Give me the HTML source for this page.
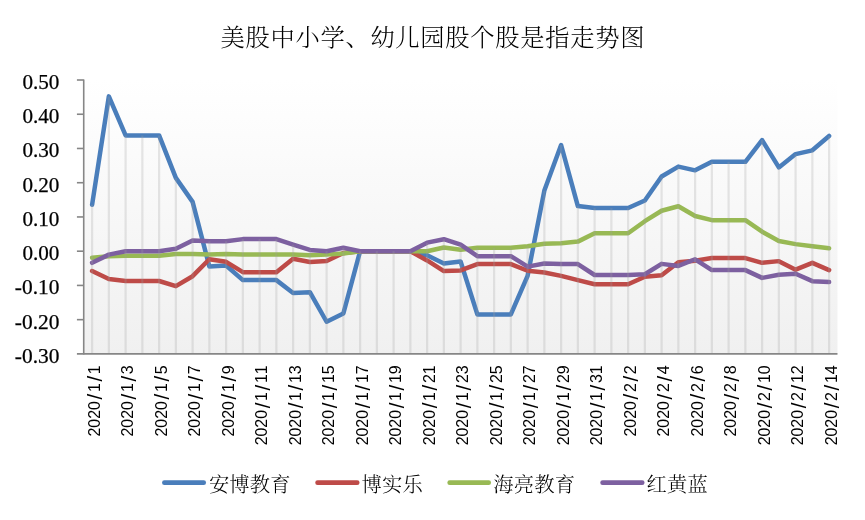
<!DOCTYPE html>
<html lang="zh-CN">
<head>
<meta charset="utf-8">
<title>美股中小学、幼儿园股个股是指走势图</title>
<style>
html,body{margin:0;padding:0;background:#fff;}
body{width:865px;height:520px;overflow:hidden;}
svg{display:block;}
.t{font-family:"Liberation Serif","Noto Serif CJK SC",serif;fill:#000;}
.yl{font-family:"Liberation Serif",serif;font-size:20.6px;fill:#000;stroke:#000;stroke-width:0.25;}
.xl{font-family:"Liberation Sans",sans-serif;font-size:16px;fill:#000;}
.s{fill:none;stroke-width:4.5;stroke-linecap:round;stroke-linejoin:round;}
</style>
</head>
<body>
<svg width="865" height="520" viewBox="0 0 865 520">
<defs>
<linearGradient id="pg" x1="0" y1="0" x2="0" y2="1">
<stop offset="0" stop-color="#ffffff"/>
<stop offset="1" stop-color="#f0f0f0"/>
</linearGradient>
</defs>
<rect x="0" y="0" width="865" height="520" fill="#ffffff"/>
<rect x="83.72" y="80.00" width="753.75" height="273.90" fill="url(#pg)"/>
<text class="t" x="432.5" y="45.5" font-size="24.3" font-weight="300" text-anchor="middle" textLength="424" lengthAdjust="spacing">美股中小学、幼儿园股个股是指走势图</text>
<g class="s">
<path d="M92.10,204.72 L108.85,96.39 L125.60,135.43 L142.35,135.43 L159.10,135.43 L175.85,177.90 L192.60,201.88 L209.35,266.51 L226.10,265.48 L242.85,280.11 L259.60,280.11 L276.35,280.11 L293.10,292.99 L309.85,292.16 L326.60,321.75 L343.35,313.53 L360.10,251.20 L376.85,251.20 L393.60,251.20 L410.35,251.20 L427.10,255.31 L443.85,263.53 L460.60,261.47 L477.35,314.43 L494.10,314.43 L510.85,314.43 L527.60,275.86 L544.35,190.58 L561.10,145.02 L577.85,206.09 L594.60,208.04 L611.35,208.04 L628.10,208.04 L644.85,200.51 L661.60,176.53 L678.35,166.60 L695.10,170.37 L711.85,161.81 L728.60,161.81 L745.35,161.81 L762.10,140.06 L778.85,167.39 L795.60,154.10 L812.35,150.33 L829.10,135.95" stroke="#4a7ebb"/>
<path d="M92.10,271.06 L108.85,278.94 L125.60,281.00 L142.35,281.00 L159.10,281.00 L175.85,286.13 L192.60,276.20 L209.35,259.25 L226.10,261.82 L242.85,272.20 L259.60,272.20 L276.35,272.20 L293.10,258.67 L309.85,261.99 L326.60,260.96 L343.35,253.05 L360.10,251.20 L376.85,251.20 L393.60,251.20 L410.35,251.20 L427.10,260.45 L443.85,271.06 L460.60,270.38 L477.35,264.08 L494.10,264.08 L510.85,264.08 L527.60,270.72 L544.35,272.44 L561.10,275.86 L577.85,280.11 L594.60,284.29 L611.35,284.29 L628.10,284.29 L644.85,276.75 L661.60,275.31 L678.35,262.16 L695.10,260.72 L711.85,258.05 L728.60,258.05 L745.35,258.05 L762.10,262.84 L778.85,261.13 L795.60,269.69 L812.35,262.84 L829.10,270.11" stroke="#be4b48"/>
<path d="M92.10,257.71 L108.85,256.34 L125.60,255.65 L142.35,255.65 L159.10,255.65 L175.85,253.94 L192.60,253.94 L209.35,254.62 L226.10,253.94 L242.85,254.52 L259.60,254.52 L276.35,254.52 L293.10,254.52 L309.85,255.14 L326.60,254.62 L343.35,253.46 L360.10,251.20 L376.85,251.20 L393.60,251.20 L410.35,251.20 L427.10,251.20 L443.85,247.43 L460.60,249.83 L477.35,247.84 L494.10,247.84 L510.85,247.84 L527.60,246.20 L544.35,243.66 L561.10,243.32 L577.85,241.61 L594.60,233.29 L611.35,233.29 L628.10,233.29 L644.85,221.20 L661.60,210.78 L678.35,206.23 L695.10,215.99 L711.85,220.17 L728.60,220.17 L745.35,220.17 L762.10,231.68 L778.85,240.92 L795.60,244.11 L812.35,246.20 L829.10,248.29" stroke="#98b954"/>
<path d="M92.10,262.84 L108.85,254.62 L125.60,251.20 L142.35,251.20 L159.10,251.20 L175.85,248.80 L192.60,240.58 L209.35,241.27 L226.10,241.27 L242.85,239.11 L259.60,239.11 L276.35,239.11 L293.10,244.69 L309.85,249.93 L326.60,251.20 L343.35,247.77 L360.10,251.20 L376.85,251.20 L393.60,251.20 L410.35,251.20 L427.10,242.64 L443.85,239.21 L460.60,244.69 L477.35,256.17 L494.10,256.17 L510.85,256.17 L527.60,266.61 L544.35,263.53 L561.10,264.08 L577.85,264.08 L594.60,275.00 L611.35,275.00 L628.10,275.00 L644.85,274.28 L661.60,263.87 L678.35,265.93 L695.10,259.28 L711.85,270.11 L728.60,270.11 L745.35,270.11 L762.10,277.91 L778.85,274.83 L795.60,273.81 L812.35,281.13 L829.10,282.02" stroke="#7d60a0"/>
</g>
<g stroke="#a0a0a0" stroke-opacity="0.25" stroke-width="2.2" fill="none">
<line x1="92.10" y1="204.72" x2="92.10" y2="353.90"/>
<line x1="108.85" y1="96.39" x2="108.85" y2="353.90"/>
<line x1="125.60" y1="135.43" x2="125.60" y2="353.90"/>
<line x1="142.35" y1="135.43" x2="142.35" y2="353.90"/>
<line x1="159.10" y1="135.43" x2="159.10" y2="353.90"/>
<line x1="175.85" y1="177.90" x2="175.85" y2="353.90"/>
<line x1="192.60" y1="201.88" x2="192.60" y2="353.90"/>
<line x1="209.35" y1="241.27" x2="209.35" y2="353.90"/>
<line x1="226.10" y1="241.27" x2="226.10" y2="353.90"/>
<line x1="242.85" y1="239.11" x2="242.85" y2="353.90"/>
<line x1="259.60" y1="239.11" x2="259.60" y2="353.90"/>
<line x1="276.35" y1="239.11" x2="276.35" y2="353.90"/>
<line x1="293.10" y1="244.69" x2="293.10" y2="353.90"/>
<line x1="309.85" y1="249.93" x2="309.85" y2="353.90"/>
<line x1="326.60" y1="251.20" x2="326.60" y2="353.90"/>
<line x1="343.35" y1="247.77" x2="343.35" y2="353.90"/>
<line x1="360.10" y1="251.20" x2="360.10" y2="353.90"/>
<line x1="376.85" y1="251.20" x2="376.85" y2="353.90"/>
<line x1="393.60" y1="251.20" x2="393.60" y2="353.90"/>
<line x1="410.35" y1="251.20" x2="410.35" y2="353.90"/>
<line x1="427.10" y1="242.64" x2="427.10" y2="353.90"/>
<line x1="443.85" y1="239.21" x2="443.85" y2="353.90"/>
<line x1="460.60" y1="244.69" x2="460.60" y2="353.90"/>
<line x1="477.35" y1="247.84" x2="477.35" y2="353.90"/>
<line x1="494.10" y1="247.84" x2="494.10" y2="353.90"/>
<line x1="510.85" y1="247.84" x2="510.85" y2="353.90"/>
<line x1="527.60" y1="246.20" x2="527.60" y2="353.90"/>
<line x1="544.35" y1="190.58" x2="544.35" y2="353.90"/>
<line x1="561.10" y1="145.02" x2="561.10" y2="353.90"/>
<line x1="577.85" y1="206.09" x2="577.85" y2="353.90"/>
<line x1="594.60" y1="208.04" x2="594.60" y2="353.90"/>
<line x1="611.35" y1="208.04" x2="611.35" y2="353.90"/>
<line x1="628.10" y1="208.04" x2="628.10" y2="353.90"/>
<line x1="644.85" y1="200.51" x2="644.85" y2="353.90"/>
<line x1="661.60" y1="176.53" x2="661.60" y2="353.90"/>
<line x1="678.35" y1="166.60" x2="678.35" y2="353.90"/>
<line x1="695.10" y1="170.37" x2="695.10" y2="353.90"/>
<line x1="711.85" y1="161.81" x2="711.85" y2="353.90"/>
<line x1="728.60" y1="161.81" x2="728.60" y2="353.90"/>
<line x1="745.35" y1="161.81" x2="745.35" y2="353.90"/>
<line x1="762.10" y1="140.06" x2="762.10" y2="353.90"/>
<line x1="778.85" y1="167.39" x2="778.85" y2="353.90"/>
<line x1="795.60" y1="154.10" x2="795.60" y2="353.90"/>
<line x1="812.35" y1="150.33" x2="812.35" y2="353.90"/>
<line x1="829.10" y1="135.95" x2="829.10" y2="353.90"/>
</g>
<g stroke="#868686" stroke-width="1.6" fill="none">
<line x1="83.72" y1="79.50" x2="83.72" y2="354.60"/>
<line x1="76.92" y1="353.90" x2="837.48" y2="353.90"/>
<line x1="76.92" y1="80.00" x2="83.72" y2="80.00"/>
<line x1="76.92" y1="114.24" x2="83.72" y2="114.24"/>
<line x1="76.92" y1="148.47" x2="83.72" y2="148.47"/>
<line x1="76.92" y1="182.71" x2="83.72" y2="182.71"/>
<line x1="76.92" y1="216.95" x2="83.72" y2="216.95"/>
<line x1="76.92" y1="251.19" x2="83.72" y2="251.19"/>
<line x1="76.92" y1="285.42" x2="83.72" y2="285.42"/>
<line x1="76.92" y1="319.66" x2="83.72" y2="319.66"/>
</g>
<g class="yl">
<text x="22.40" y="89.00" textLength="37.0" lengthAdjust="spacingAndGlyphs">0.50</text>
<text x="22.40" y="123.24" textLength="37.0" lengthAdjust="spacingAndGlyphs">0.40</text>
<text x="22.40" y="157.47" textLength="37.0" lengthAdjust="spacingAndGlyphs">0.30</text>
<text x="22.40" y="191.71" textLength="37.0" lengthAdjust="spacingAndGlyphs">0.20</text>
<text x="22.40" y="225.95" textLength="37.0" lengthAdjust="spacingAndGlyphs">0.10</text>
<text x="22.40" y="260.19" textLength="37.0" lengthAdjust="spacingAndGlyphs">0.00</text>
<text x="14.80" y="294.42" textLength="44.6" lengthAdjust="spacingAndGlyphs">-0.10</text>
<text x="14.80" y="328.66" textLength="44.6" lengthAdjust="spacingAndGlyphs">-0.20</text>
<text x="14.80" y="362.90" textLength="44.6" lengthAdjust="spacingAndGlyphs">-0.30</text>
</g>
<g class="xl">
<text transform="translate(99.60,365.4) rotate(-90)" x="-71.10 -62.25 -53.40 -44.55 -34.05 -26.70 -16.20 -8.85" y="0 0 0 0 2.5 0 2.5 0">2020<tspan font-size="20.5">/</tspan>1<tspan font-size="20.5">/</tspan>1</text>
<text transform="translate(133.10,365.4) rotate(-90)" x="-71.10 -62.25 -53.40 -44.55 -34.05 -26.70 -16.20 -8.85" y="0 0 0 0 2.5 0 2.5 0">2020<tspan font-size="20.5">/</tspan>1<tspan font-size="20.5">/</tspan>3</text>
<text transform="translate(166.60,365.4) rotate(-90)" x="-71.10 -62.25 -53.40 -44.55 -34.05 -26.70 -16.20 -8.85" y="0 0 0 0 2.5 0 2.5 0">2020<tspan font-size="20.5">/</tspan>1<tspan font-size="20.5">/</tspan>5</text>
<text transform="translate(200.10,365.4) rotate(-90)" x="-71.10 -62.25 -53.40 -44.55 -34.05 -26.70 -16.20 -8.85" y="0 0 0 0 2.5 0 2.5 0">2020<tspan font-size="20.5">/</tspan>1<tspan font-size="20.5">/</tspan>7</text>
<text transform="translate(233.60,365.4) rotate(-90)" x="-71.10 -62.25 -53.40 -44.55 -34.05 -26.70 -16.20 -8.85" y="0 0 0 0 2.5 0 2.5 0">2020<tspan font-size="20.5">/</tspan>1<tspan font-size="20.5">/</tspan>9</text>
<text transform="translate(267.10,365.4) rotate(-90)" x="-79.95 -71.10 -62.25 -53.40 -42.90 -35.55 -25.05 -17.70 -8.85" y="0 0 0 0 2.5 0 2.5 0 0">2020<tspan font-size="20.5">/</tspan>1<tspan font-size="20.5">/</tspan>11</text>
<text transform="translate(300.60,365.4) rotate(-90)" x="-79.95 -71.10 -62.25 -53.40 -42.90 -35.55 -25.05 -17.70 -8.85" y="0 0 0 0 2.5 0 2.5 0 0">2020<tspan font-size="20.5">/</tspan>1<tspan font-size="20.5">/</tspan>13</text>
<text transform="translate(334.10,365.4) rotate(-90)" x="-79.95 -71.10 -62.25 -53.40 -42.90 -35.55 -25.05 -17.70 -8.85" y="0 0 0 0 2.5 0 2.5 0 0">2020<tspan font-size="20.5">/</tspan>1<tspan font-size="20.5">/</tspan>15</text>
<text transform="translate(367.60,365.4) rotate(-90)" x="-79.95 -71.10 -62.25 -53.40 -42.90 -35.55 -25.05 -17.70 -8.85" y="0 0 0 0 2.5 0 2.5 0 0">2020<tspan font-size="20.5">/</tspan>1<tspan font-size="20.5">/</tspan>17</text>
<text transform="translate(401.10,365.4) rotate(-90)" x="-79.95 -71.10 -62.25 -53.40 -42.90 -35.55 -25.05 -17.70 -8.85" y="0 0 0 0 2.5 0 2.5 0 0">2020<tspan font-size="20.5">/</tspan>1<tspan font-size="20.5">/</tspan>19</text>
<text transform="translate(434.60,365.4) rotate(-90)" x="-79.95 -71.10 -62.25 -53.40 -42.90 -35.55 -25.05 -17.70 -8.85" y="0 0 0 0 2.5 0 2.5 0 0">2020<tspan font-size="20.5">/</tspan>1<tspan font-size="20.5">/</tspan>21</text>
<text transform="translate(468.10,365.4) rotate(-90)" x="-79.95 -71.10 -62.25 -53.40 -42.90 -35.55 -25.05 -17.70 -8.85" y="0 0 0 0 2.5 0 2.5 0 0">2020<tspan font-size="20.5">/</tspan>1<tspan font-size="20.5">/</tspan>23</text>
<text transform="translate(501.60,365.4) rotate(-90)" x="-79.95 -71.10 -62.25 -53.40 -42.90 -35.55 -25.05 -17.70 -8.85" y="0 0 0 0 2.5 0 2.5 0 0">2020<tspan font-size="20.5">/</tspan>1<tspan font-size="20.5">/</tspan>25</text>
<text transform="translate(535.10,365.4) rotate(-90)" x="-79.95 -71.10 -62.25 -53.40 -42.90 -35.55 -25.05 -17.70 -8.85" y="0 0 0 0 2.5 0 2.5 0 0">2020<tspan font-size="20.5">/</tspan>1<tspan font-size="20.5">/</tspan>27</text>
<text transform="translate(568.60,365.4) rotate(-90)" x="-79.95 -71.10 -62.25 -53.40 -42.90 -35.55 -25.05 -17.70 -8.85" y="0 0 0 0 2.5 0 2.5 0 0">2020<tspan font-size="20.5">/</tspan>1<tspan font-size="20.5">/</tspan>29</text>
<text transform="translate(602.10,365.4) rotate(-90)" x="-79.95 -71.10 -62.25 -53.40 -42.90 -35.55 -25.05 -17.70 -8.85" y="0 0 0 0 2.5 0 2.5 0 0">2020<tspan font-size="20.5">/</tspan>1<tspan font-size="20.5">/</tspan>31</text>
<text transform="translate(635.60,365.4) rotate(-90)" x="-71.10 -62.25 -53.40 -44.55 -34.05 -26.70 -16.20 -8.85" y="0 0 0 0 2.5 0 2.5 0">2020<tspan font-size="20.5">/</tspan>2<tspan font-size="20.5">/</tspan>2</text>
<text transform="translate(669.10,365.4) rotate(-90)" x="-71.10 -62.25 -53.40 -44.55 -34.05 -26.70 -16.20 -8.85" y="0 0 0 0 2.5 0 2.5 0">2020<tspan font-size="20.5">/</tspan>2<tspan font-size="20.5">/</tspan>4</text>
<text transform="translate(702.60,365.4) rotate(-90)" x="-71.10 -62.25 -53.40 -44.55 -34.05 -26.70 -16.20 -8.85" y="0 0 0 0 2.5 0 2.5 0">2020<tspan font-size="20.5">/</tspan>2<tspan font-size="20.5">/</tspan>6</text>
<text transform="translate(736.10,365.4) rotate(-90)" x="-71.10 -62.25 -53.40 -44.55 -34.05 -26.70 -16.20 -8.85" y="0 0 0 0 2.5 0 2.5 0">2020<tspan font-size="20.5">/</tspan>2<tspan font-size="20.5">/</tspan>8</text>
<text transform="translate(769.60,365.4) rotate(-90)" x="-79.95 -71.10 -62.25 -53.40 -42.90 -35.55 -25.05 -17.70 -8.85" y="0 0 0 0 2.5 0 2.5 0 0">2020<tspan font-size="20.5">/</tspan>2<tspan font-size="20.5">/</tspan>10</text>
<text transform="translate(803.10,365.4) rotate(-90)" x="-79.95 -71.10 -62.25 -53.40 -42.90 -35.55 -25.05 -17.70 -8.85" y="0 0 0 0 2.5 0 2.5 0 0">2020<tspan font-size="20.5">/</tspan>2<tspan font-size="20.5">/</tspan>12</text>
<text transform="translate(836.60,365.4) rotate(-90)" x="-79.95 -71.10 -62.25 -53.40 -42.90 -35.55 -25.05 -17.70 -8.85" y="0 0 0 0 2.5 0 2.5 0 0">2020<tspan font-size="20.5">/</tspan>2<tspan font-size="20.5">/</tspan>14</text>
</g>
<g>
<line x1="164.4" y1="482.7" x2="203.7" y2="482.7" stroke="#4a7ebb" stroke-width="4.7" stroke-linecap="round"/>
<text class="t" x="208.9" y="492.3" font-size="20.3" font-weight="300" letter-spacing="0.2">安博教育</text>
<line x1="317.6" y1="482.7" x2="357.2" y2="482.7" stroke="#be4b48" stroke-width="4.7" stroke-linecap="round"/>
<text class="t" x="361.6" y="492.3" font-size="20.3" font-weight="300" letter-spacing="0.2">博实乐</text>
<line x1="449.7" y1="482.7" x2="488.7" y2="482.7" stroke="#98b954" stroke-width="4.7" stroke-linecap="round"/>
<text class="t" x="493.2" y="492.3" font-size="20.3" font-weight="300" letter-spacing="0.2">海亮教育</text>
<line x1="602.6" y1="482.7" x2="642.2" y2="482.7" stroke="#7d60a0" stroke-width="4.7" stroke-linecap="round"/>
<text class="t" x="646.5" y="492.3" font-size="20.3" font-weight="300" letter-spacing="0.2">红黄蓝</text>
</g>
</svg>
</body>
</html>
